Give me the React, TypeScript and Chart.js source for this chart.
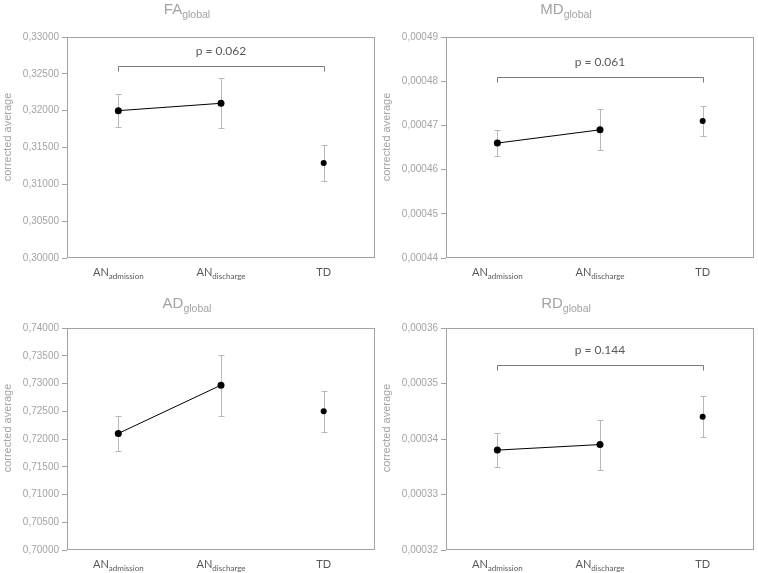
import React, { useEffect, useRef } from 'react';
import { Chart, registerables } from 'chart.js';

Chart.register(...registerables);

// ---- data ----
const categories = ['AN_admission', 'AN_discharge', 'TD'];
const categoryMain = ['AN', 'AN', 'TD'];
const categorySub = ['admission', 'discharge', ''];

const faMeans = [0.32, 0.321, 0.3129];
const faErrors = [0.0022, 0.0034, 0.0025];
const faRange = [0.3, 0.33, 0.005];
const faBracket = 0.3261;
const faP = 'p = 0.062';

const mdMeans = [0.000466, 0.000469, 0.000471];
const mdErrors = [0.000003, 0.0000046, 0.0000035];
const mdRange = [0.00044, 0.00049, 0.00001];
const mdBracket = 0.000481;
const mdP = 'p = 0.061';

const adMeans = [0.721, 0.7297, 0.725];
const adErrors = [0.0031, 0.0055, 0.0037];
const adRange = [0.7, 0.74, 0.005];

const rdMeans = [0.000338, 0.000339, 0.000344];
const rdErrors = [0.0000031, 0.0000045, 0.0000037];
const rdRange = [0.00032, 0.00036, 0.00001];
const rdBracket = 0.0003533;
const rdP = 'p = 0.144';

const yTitle = 'corrected average';

type PanelCfg = {
  titleMain: string;
  titleSub: string;
  means: number[];
  errors: number[];
  range: number[];
  bracket?: number;
  pText?: string;
  xAxisH: number;
  padRight: number;
  titleY: number;
};

const SANS = '"Liberation Sans", Arial, sans-serif';
const CAL = 'Lato, "Open Sans", sans-serif';

function makePlugin(cfg: PanelCfg) {
  return {
    id: 'panelDecor',
    beforeDatasetsDraw(chart: any) {
      const { ctx, chartArea: ca, scales } = chart;
      const x = scales.x;
      const y = scales.y;
      ctx.save();
      // frame
      ctx.strokeStyle = '#a3a3a3';
      ctx.lineWidth = 1;
      ctx.strokeRect(
        Math.round(ca.left) + 0.5,
        Math.round(ca.top) + 0.5,
        Math.round(ca.right - ca.left) - 1,
        Math.round(ca.bottom - ca.top) - 1
      );
      // error bars
      ctx.strokeStyle = '#b8b8b8';
      cfg.means.forEach((m, i) => {
        const px = Math.round(x.getPixelForValue(i)) + 0.5;
        const yt = Math.round(y.getPixelForValue(m + cfg.errors[i])) + 0.5;
        const yb = Math.round(y.getPixelForValue(m - cfg.errors[i])) + 0.5;
        ctx.beginPath();
        ctx.moveTo(px, yt);
        ctx.lineTo(px, yb);
        ctx.moveTo(px - 3, yt);
        ctx.lineTo(px + 3, yt);
        ctx.moveTo(px - 3, yb);
        ctx.lineTo(px + 3, yb);
        ctx.stroke();
      });
      // bracket
      if (cfg.bracket !== undefined) {
        const by = Math.round(y.getPixelForValue(cfg.bracket)) + 0.5;
        const x0 = Math.round(x.getPixelForValue(0)) + 0.5;
        const x2 = Math.round(x.getPixelForValue(2)) + 0.5;
        ctx.strokeStyle = '#7a7a7a';
        ctx.beginPath();
        ctx.moveTo(x0, by + 5);
        ctx.lineTo(x0, by);
        ctx.lineTo(x2, by);
        ctx.lineTo(x2, by + 5);
        ctx.stroke();
        ctx.fillStyle = '#5a5a5a';
        ctx.font = '12px ' + CAL;
        ctx.textAlign = 'center';
        ctx.textBaseline = 'alphabetic';
        ctx.fillText(cfg.pText || '', x.getPixelForValue(1), by - 12);
      }
      ctx.restore();
    },
    afterDraw(chart: any) {
      const { ctx, chartArea: ca, scales } = chart;
      const x = scales.x;
      ctx.save();
      ctx.textBaseline = 'alphabetic';
      ctx.textAlign = 'left';
      // title
      const mainFont = '15px ' + SANS;
      const subFont = '10.5px ' + SANS;
      ctx.font = mainFont;
      const wm = ctx.measureText(cfg.titleMain).width;
      ctx.font = subFont;
      const ws = ctx.measureText(cfg.titleSub).width;
      const tx = 187 - (wm + ws) / 2;
      ctx.fillStyle = '#a3a3a3';
      ctx.font = mainFont;
      ctx.fillText(cfg.titleMain, tx, cfg.titleY);
      ctx.font = subFont;
      ctx.fillText(cfg.titleSub, tx + wm, cfg.titleY + 4);
      // category labels
      const labY = ca.bottom + 18;
      ctx.fillStyle = '#595959';
      categories.forEach((_c, i) => {
        const px = x.getPixelForValue(i);
        ctx.font = '11px ' + CAL;
        const a = ctx.measureText(categoryMain[i]).width;
        ctx.font = '8px ' + CAL;
        const b = categorySub[i] ? ctx.measureText(categorySub[i]).width : 0;
        const sx = px - (a + b) / 2;
        ctx.font = '11px ' + CAL;
        ctx.fillText(categoryMain[i], sx, labY);
        if (categorySub[i]) {
          ctx.font = '8px ' + CAL;
          ctx.fillText(categorySub[i], sx + a, labY + 3);
        }
      });
      // y title
      ctx.translate(7.5, ca.top + 100);
      ctx.rotate(-Math.PI / 2);
      ctx.font = '11px ' + SANS;
      ctx.fillStyle = '#a3a3a3';
      ctx.textAlign = 'center';
      ctx.textBaseline = 'middle';
      ctx.fillText(yTitle, 0, 0);
      ctx.restore();
    },
  };
}

function Panel(props: { left: number; top: number; width: number; height: number; cfg: PanelCfg }) {
  const ref = useRef<HTMLCanvasElement | null>(null);
  const { cfg } = props;
  useEffect(() => {
    if (!ref.current) return;
    const lineData = cfg.means.map((m, i) => (i < 2 ? m : null));
    const tdData = cfg.means.map((m, i) => (i === 2 ? m : null));
    const chart = new Chart(ref.current, {
      type: 'line',
      data: {
        labels: categories,
        datasets: [
          {
            data: lineData,
            borderColor: '#000',
            borderWidth: 1,
            pointRadius: 3.5,
            pointBackgroundColor: '#000',
            pointBorderWidth: 0,
            spanGaps: false,
          },
          {
            data: tdData,
            showLine: false,
            borderColor: '#000',
            pointRadius: 3,
            pointBackgroundColor: '#000',
            pointBorderWidth: 0,
          },
        ],
      },
      options: {
        animation: false,
        responsive: false,
        layout: { padding: { top: 37, right: cfg.padRight, left: 0, bottom: 0 } },
        plugins: {
          legend: { display: false },
          tooltip: { enabled: false },
          title: { display: false },
        },
        scales: {
          x: {
            type: 'category',
            offset: true,
            ticks: { display: false },
            grid: { display: false },
            border: { display: false },
            afterFit: (s: any) => {
              s.height = cfg.xAxisH;
            },
          },
          y: {
            min: cfg.range[0],
            max: cfg.range[1],
            ticks: {
              stepSize: cfg.range[2],
              color: '#a3a3a3',
              font: { family: SANS, size: 10 },
              padding: 3,
              callback: (v: any) => Number(v).toFixed(5).replace('.', ','),
            },
            grid: {
              display: true,
              drawOnChartArea: false,
              drawTicks: true,
              tickLength: 5,
              color: '#a3a3a3',
            },
            border: { display: false },
            afterFit: (s: any) => {
              s.width = 67;
            },
          },
        },
      } as any,
      plugins: [makePlugin(cfg) as any],
    });
    return () => chart.destroy();
  }, []);
  return (
    <div style={{ position: 'absolute', left: props.left, top: props.top, width: props.width, height: props.height }}>
      <canvas ref={ref} width={props.width} height={props.height} style={{ width: props.width, height: props.height, display: 'block' }} />
    </div>
  );
}

export default function App() {
  const fa: PanelCfg = { titleMain: 'FA', titleSub: 'global', means: faMeans, errors: faErrors, range: faRange, bracket: faBracket, pText: faP, xAxisH: 33, padRight: 4, titleY: 14 };
  const md: PanelCfg = { titleMain: 'MD', titleSub: 'global', means: mdMeans, errors: mdErrors, range: mdRange, bracket: mdBracket, pText: mdP, xAxisH: 33, padRight: 3, titleY: 14 };
  const ad: PanelCfg = { titleMain: 'AD', titleSub: 'global', means: adMeans, errors: adErrors, range: adRange, xAxisH: 23, padRight: 4, titleY: 17 };
  const rd: PanelCfg = { titleMain: 'RD', titleSub: 'global', means: rdMeans, errors: rdErrors, range: rdRange, bracket: rdBracket, pText: rdP, xAxisH: 23, padRight: 3, titleY: 17 };
  return (
    <div style={{ position: 'absolute', left: 0, top: 0, width: 758, height: 573, background: '#fff' }}>
      <Panel left={0} top={0} width={379} height={291} cfg={fa} />
      <Panel left={379} top={0} width={379} height={291} cfg={md} />
      <Panel left={0} top={291} width={379} height={282} cfg={ad} />
      <Panel left={379} top={291} width={379} height={282} cfg={rd} />
    </div>
  );
}
